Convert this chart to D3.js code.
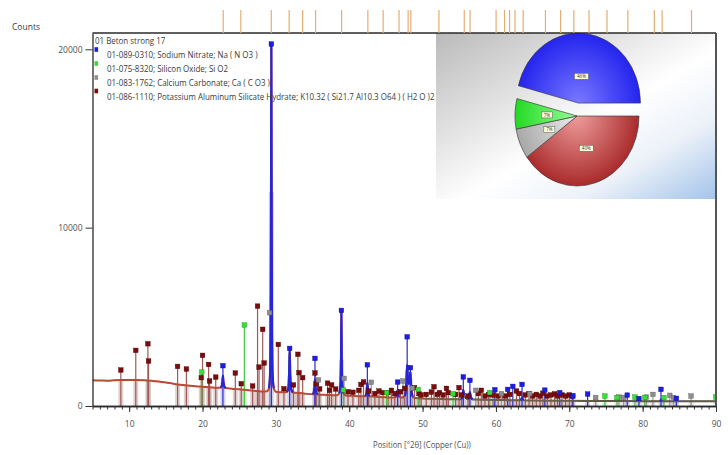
<!DOCTYPE html>
<html><head><meta charset="utf-8">
<script src="https://cdn.jsdelivr.net/npm/d3@7"></script>
<style>
body{margin:0;background:#fff}
svg{display:block}
text{font-family:"Open Sans","Liberation Sans",sans-serif;fill:#3a3a3a}
</style>
</head><body>
<svg id="chart" width="728" height="455"></svg>
<script>
// ---- scan and reference data ----------------------------------------
const sampleName = "01 Beton strong 17";
const phaseCodes = [
  "01-089-0310; Sodium Nitrate; Na ( N O3 )",
  "01-075-8320; Silicon Oxide; Si O2",
  "01-083-1762; Calcium Carbonate; Ca ( C O3 )",
  "01-086-1110; Potassium Aluminum Silicate Hydrate; K10.32 ( Si21.7 Al10.3 O64 ) ( H2 O )2"
];
const xTicks = [10, 20, 30, 40, 50, 60, 70, 80, 90];
const yTicks = [0, 10000, 20000];

// measured scan: [2θ, counts]
const scan = [
  [5,1440],[6,1430],[7,1420],[8,1440],[9,1455],[10,1460],[11,1460],[12,1450],[13,1420],[14,1380],
  [15,1320],[16,1250],[17,1190],[18,1150],[19,1110],[20,1080],[21,1050],[22,1020],
  [22.45,1030],[22.62,1120],[22.71,1350],[22.78,1700],[22.85,1350],[22.94,1120],[23.15,1010],
  [24,970],[25,935],[26,900],[27,860],[28,820],
  [28.8,830],[29.05,1000],[29.2,1700],[29.29,4200],[29.34,12000],[29.38,20300],[29.42,12000],
  [29.47,4200],[29.56,1700],[29.72,1000],[30.0,800],
  [31,770],[31.5,790],[31.7,1000],[31.8,1700],[31.88,3250],[31.96,1700],[32.06,1000],[32.3,760],
  [33,730],[34,690],[35,660],[35.15,740],[35.25,1000],[35.33,1500],[35.41,1000],[35.51,740],[35.7,650],
  [36.5,630],[37.5,610],[38.3,600],[38.65,720],[38.8,1200],[38.88,2600],[38.93,5360],[38.98,2600],
  [39.06,1200],[39.2,720],[39.5,590],
  [40.5,570],[41.5,550],[42.2,545],[42.35,750],[42.47,1300],[42.59,750],[42.75,540],
  [44,510],[45,490],[46,470],[46.45,520],[46.6,900],[46.75,520],[47.2,470],[47.6,560],[47.76,1100],
  [47.88,2300],[47.98,1500],[48.12,1250],[48.25,1500],[48.34,1900],[48.44,1000],[48.65,520],[49,450],
  [50,420],[52,400],[54,380],[55.3,380],[55.45,600],[55.55,900],[55.65,600],[56.2,380],[56.35,560],
  [56.45,780],[56.55,560],[56.8,370],
  [58,355],[60,340],[62,325],[63.4,320],[63.56,470],[63.7,320],[65,310],[70,290],[75,280],[80,272],
  [82.4,272],[82.5,370],[82.6,272],[85,265],[90,260]
];

// reference stick patterns: [2θ, counts]
const nitrateSticks = [
  [22.78,2260],[29.38,20300],[31.88,3230],[35.33,2670],[38.93,5360],[42.47,2310],[46.6,1340],
  [47.9,3880],[48.34,2150],[55.55,1630],[56.45,1440],[59.85,910],[61.6,930],[62.3,1100],[63.56,1210],
  [66.66,890],[68.7,750],[70.5,560],[72.5,670],[77.9,610],[79.5,420],[82.5,935],[84.6,430]
];
const quartzSticks = [
  [19.9,1900],[25.7,4540],[39.2,900],[45.1,750],[49.4,930],[54.15,690],[59.15,750],[74.85,560],
  [76.5,470],[78.95,500],[80.3,480],[82.9,470],[90.0,500]
];
const calciteSticks = [
  [29.15,5230],[35.8,1460],[39.3,1550],[43.0,1330],[47.33,1400],[48.6,1000],[57.25,880],[60.75,690],
  [64.6,690],[73.6,470],[76.76,500],[77.4,480],[80.5,500],[81.4,650],[83.7,600],[84.2,480],[86.6,560]
];
const silicateSticks = [
  [8.86,2017],[10.9,3120],[12.55,3490],[12.64,2520],[16.6,2220],[17.8,2070],[19.83,1590],[20.0,2840],
  [20.83,2330],[20.96,1400],[21.8,1620],[24.47,1850],[25.28,1250],[26.83,1120],[27.5,5600],[27.7,2180],
  [28.2,4300],[28.4,2410],[30.33,3450],[31.1,970],[32.4,1180],[33.0,2900],[33.15,1870],[33.65,1590],
  [35.33,1850],[35.5,1250],[35.97,960],[37.05,1280],[37.3,880],[37.6,1180],[38.15,950],[39.83,800],
  [40.5,770],[41.3,880],[41.6,1210],[41.95,1350],[42.65,840],[43.5,700],[44.06,840],[44.6,750],
  [45.3,750],[45.75,880],[46.2,700],[47.0,800],[47.56,990],[48.9,1030],[49.5,700],[49.8,620],
  [50.5,650],[51.2,780],[51.56,1080],[52.0,650],[52.3,750],[52.8,620],[53.25,990],[53.5,750],
  [54.5,650],[54.97,1030],[55.3,620],[56.2,560],[57.6,700],[58.0,880],[58.5,560],[59.0,650],
  [59.6,620],[60.3,560],[61.2,560],[61.9,650],[62.8,840],[63.2,700],[64.0,620],[64.5,700],[65.0,560],
  [65.5,650],[66.0,560],[66.4,720],[67.0,560],[67.5,620],[68.0,680],[68.4,560],[69.0,620],[69.5,560],
  [70.0,620],[70.4,560]
];

// positions from the peak search
const peakList = [22.82,25.22,29.37,31.81,33.65,35.41,38.96,42.54,44.62,46.79,48.03,48.40,52.23,
  55.68,56.47,60.02,61.17,61.86,62.60,63.71,66.75,68.82,70.62,72.69,75.14,77.99,81.59,82.65,86.66];

// semi-quantitative phase shares (%)
const shareLabels = ["Potassium Aluminum Silicate Hydrate","Calcium Carbonate","Silicon Oxide","Sodium Nitrate"];
const shareValues = [40, 7, 7, 46];

// ---- styles -----------------------------------------------------------
const style = {
  nitrate:  {mark:"#1c1ce8", line:"#2a2ad0", bar:"#b4b4e6", edge:"#0a0a90"},
  quartz:   {mark:"#33e033", line:"#3fc83f", bar:"#bfe3bf", edge:"#1c8a1c"},
  calcite:  {mark:"#8e8e8e", line:"#9a9a9a", bar:"#d2d2d2", edge:"#5a5a5a"},
  silicate: {mark:"#7a0c0c", line:"#a25858", bar:"#cdb4b4", edge:"#4a0000"}
};
const phases = [
  {key:"silicate", sticks:silicateSticks},
  {key:"calcite",  sticks:calciteSticks},
  {key:"quartz",   sticks:quartzSticks},
  {key:"nitrate",  sticks:nitrateSticks}
];

// ---- scales -----------------------------------------------------------
const svg = d3.select("#chart");
const x = d3.scaleLinear().domain([5, 90]).range([92.5, 716]);
const y = d3.scaleLinear().domain([0, 20914]).range([406, 33]);
const plotTop = y.range()[1], base = y(0);

const defs = svg.append("defs");
defs.append("clipPath").attr("id","plotClip").append("rect")
  .attr("x", x(5)).attr("y", plotTop).attr("width", x(90)-x(5)).attr("height", base-plotTop);

const sg = defs.append("linearGradient").attr("id","scanStroke")
  .attr("gradientUnits","userSpaceOnUse")
  .attr("x1", x(5)).attr("x2", x(90)).attr("y1", 0).attr("y2", 0);
[[5,"#d63b2a"],[44,"#c9412f"],[56,"#5f5a48"],[90,"#4b4b43"]]
  .forEach(([d,c]) => sg.append("stop").attr("offset",(d-5)/85).attr("stop-color",c));

const plot = svg.append("g").attr("clip-path","url(#plotClip)");

// scan level below a stick position (lower of the two neighbouring samples)
const bis = d3.bisector(d => d[0]).left;
function floorAt(d){
  const i = Math.max(1, Math.min(scan.length-1, bis(scan, d)));
  return Math.min(scan[i-1][1], scan[i][1]);
}

// shaded bars under each reference line
phases.forEach(p => {
  plot.append("g").selectAll("rect").data(p.sticks).join("rect")
    .attr("x", d => x(d[0]) - 2.5).attr("width", 5)
    .attr("y", d => y(floorAt(d[0]))).attr("height", d => base - y(floorAt(d[0])))
    .attr("fill", style[p.key].bar).attr("opacity", 0.6);
});

// stick lines
phases.forEach(p => {
  plot.append("g").selectAll("line").data(p.sticks).join("line")
    .attr("x1", d => x(d[0])).attr("x2", d => x(d[0]))
    .attr("y1", base).attr("y2", d => y(d[1]))
    .attr("stroke", style[p.key].line).attr("stroke-width", 1.2);
});

// measured scan
const line = d3.line().x(d => x(d[0])).y(d => y(d[1])).curve(d3.curveMonotoneX);
plot.append("path").datum(scan).attr("d", line)
  .attr("fill","none").attr("stroke","url(#scanStroke)").attr("stroke-width",2);
plot.append("path").datum(scan).attr("d", line)
  .attr("fill","none").attr("stroke","#7a7046").attr("stroke-width",0.7).attr("opacity",0.8);

// profile of the sodium nitrate reflections
nitrateSticks.forEach(s => {
  const seg = scan.filter(d => Math.abs(d[0]-s[0]) <= 0.5);
  if (seg.length > 2) {
    plot.append("path").datum(seg).attr("d", line)
      .attr("fill","none").attr("stroke","#2626d8").attr("stroke-width",2.2);
  }
});

// markers
phases.forEach(p => {
  plot.append("g").selectAll("rect").data(p.sticks).join("rect")
    .attr("x", d => x(d[0]) - 2.3).attr("y", d => y(d[1]) - 2.3)
    .attr("width", 4.6).attr("height", 4.6)
    .attr("fill", style[p.key].mark).attr("stroke", style[p.key].edge).attr("stroke-width", 0.4);
});

// ---- phase share inset --------------------------------------------------
const bg = defs.append("linearGradient").attr("id","insetBg")
  .attr("x1",0).attr("y1",0).attr("x2",1).attr("y2",1);
[[0,"#bababa"],[0.4,"#ececec"],[0.55,"#ffffff"],[0.75,"#edf2f9"],[1,"#a4c4ea"]]
  .forEach(([o,c]) => bg.append("stop").attr("offset",o).attr("stop-color",c));
const inset = {x0: 436, x1: 716, y0: plotTop, y1: 199};
svg.append("rect").attr("x",inset.x0).attr("y",inset.y0)
  .attr("width",inset.x1-inset.x0).attr("height",inset.y1-inset.y0).attr("fill","url(#insetBg)");

const sliceFill = [["#ee9c9c","#a82828"],["#ececec","#a6a6a6"],["#96ff96","#20d820"],["#7878ff","#2222ee"]];
sliceFill.forEach((c,i) => {
  const g = defs.append("radialGradient").attr("id","slice"+i)
    .attr("gradientUnits","userSpaceOnUse").attr("cx",0).attr("cy",0).attr("r",72);
  g.append("stop").attr("offset",0).attr("stop-color",c[0]);
  g.append("stop").attr("offset",1).attr("stop-color",c[1]);
});

const R = 70, squash = 0.886;
const pieCx = 577, pieCy = 116;
const arcs = d3.pie().sort(null).startAngle(Math.PI/2).endAngle(Math.PI/2 + 2*Math.PI)(shareValues);
const arcGen = d3.arc().innerRadius(0).outerRadius(R);
const pieG = svg.append("g").attr("transform",`translate(${pieCx},${pieCy})`);
const largest = d3.maxIndex(shareValues);
arcs.forEach((a,i) => {
  const mid = (a.startAngle + a.endAngle)/2;
  const pull = i === largest ? 13 : 0;
  const ox = Math.sin(mid)*pull*squash, oy = -Math.cos(mid)*pull;
  pieG.append("g").attr("transform",`translate(${ox},${oy}) scale(${squash},1)`)
    .append("path").attr("d", arcGen(a))
    .attr("fill",`url(#slice${i})`).attr("stroke","#3a3a3a").attr("stroke-width",0.7);
  const lr = i === largest ? 27 : 34;
  const lx = Math.sin(mid)*lr*squash + ox, ly = -Math.cos(mid)*lr + oy;
  const label = shareValues[i] + "%";
  const bw = label.length > 2 ? 14 : 11;
  pieG.append("rect").attr("x",lx-bw/2).attr("y",ly-3).attr("width",bw).attr("height",6)
    .attr("fill","#ffffdc").attr("stroke","#555").attr("stroke-width",0.5);
  pieG.append("text").attr("x",lx).attr("y",ly+1.6).attr("text-anchor","middle")
    .style("font-size","4.6px").style("fill","#333").text(label);
});

// ---- axes and frame ----------------------------------------------------------
const gx = svg.append("g").attr("transform",`translate(0,${base})`);
gx.call(d3.axisBottom(x).tickValues(d3.range(5, 91)).tickSize(3.5).tickSizeOuter(0).tickFormat(""));
const gx2 = svg.append("g").attr("transform",`translate(0,${base})`);
gx2.call(d3.axisBottom(x).tickValues(xTicks).tickSize(6).tickSizeOuter(0).tickPadding(9).tickFormat(d3.format("d")));
const gy = svg.append("g").attr("transform",`translate(${x(5)},0)`);
gy.call(d3.axisLeft(y).tickValues(yTicks).tickSize(7).tickSizeOuter(0).tickPadding(3).tickFormat(d3.format("d")));
svg.selectAll(".domain").attr("stroke","#2a2a2a").attr("stroke-width",1.3);
svg.selectAll(".tick line").attr("stroke","#333");
svg.selectAll(".tick text").style("font-size","8.5px").style("fill","#505050").attr("font-family",null);

svg.append("line").attr("x1",x(5)).attr("x2",x(90)).attr("y1",plotTop).attr("y2",plotTop)
  .attr("stroke","#2a2a2a").attr("stroke-width",1.3);
svg.append("line").attr("x1",x(90)).attr("x2",x(90)).attr("y1",plotTop).attr("y2",base)
  .attr("stroke","#555").attr("stroke-width",2);

// peak list ticks above the frame
svg.append("g").selectAll("line").data(peakList).join("line")
  .attr("x1", d => x(d)).attr("x2", d => x(d)).attr("y1", 10).attr("y2", plotTop)
  .attr("stroke","#e4ad72").attr("stroke-width",1.2);

// ---- text ---------------------------------------------------------------------
// squeeze a label horizontally so it spans the given width
function squeeze(sel, width, x0){
  const w = sel.node().getComputedTextLength();
  const k = width / w;
  sel.attr("transform", `translate(${x0*(1-k)},0) scale(${k},1)`);
  return k;
}
svg.append("text").attr("x",12).attr("y",30).style("font-size","8.5px").text("Counts");
const xt = svg.append("text").attr("x",373).attr("y",448)
  .style("font-size","9px").style("fill","#505050").text("Position [°2θ] (Copper (Cu))");
squeeze(xt, 98, 373);

// legend
const leg = svg.append("g");
const legFont = "9px";
const rowY = [58.5, 72.5, 86.5, 100];
const rows = phaseCodes.map((t,i) => leg.append("text").attr("x",107).attr("y",rowY[i])
  .style("font-size",legFont).text(t));
const k = rows[3].node().getComputedTextLength();
const legScale = 328 / k;
rows.forEach(r => r.attr("transform", `translate(${107*(1-legScale)},0) scale(${legScale},1)`));
leg.append("text").attr("x",95).attr("y",44.2).style("font-size",legFont)
  .attr("transform", `translate(${95*(1-legScale)},0) scale(${legScale},1)`).text(sampleName);
const legendOrder = ["nitrate","quartz","calcite","silicate"];
legendOrder.forEach((key,i) => {
  leg.append("rect").attr("x",94.5).attr("y",rowY[i]-9-2.3).attr("width",3.6).attr("height",4.6)
    .attr("fill",style[key].mark);
});
</script>
</body></html>
